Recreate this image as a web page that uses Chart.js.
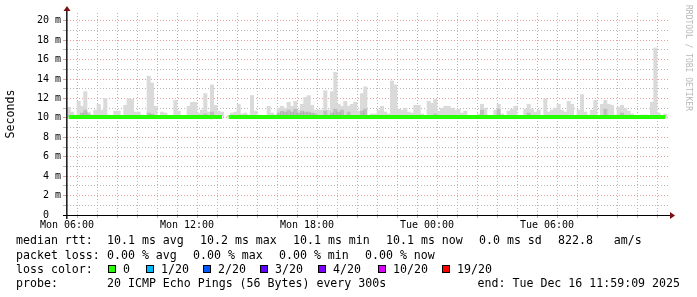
<!DOCTYPE html>
<html>
<head>
<meta charset="utf-8">
<script src="https://cdn.jsdelivr.net/npm/chart.js@4/dist/chart.umd.min.js"></script>
<style>
  html, body { margin: 0; padding: 0; background: #fff; }
  #caixa { width: 697px; height: 297px; }
</style>
</head>
<body>
<div id="caixa"><canvas id="grafico" width="697" height="297"></canvas></div>
<script>
// eixo x: horas desde Mon 06:00, um bin a cada 10 min
var xTickLabels = ['Mon 06:00', 'Mon 12:00', 'Mon 18:00', 'Tue 00:00', 'Tue 06:00'];
var yTickLabels = ['0  ', '2 m', '4 m', '6 m', '8 m', '10 m', '12 m', '14 m', '16 m', '18 m', '20 m'];

// mediana (ms) por bin
var rttMedian = [
  10.1,10.1,10.1,10.1,10.1,10.1,10.1,10.1,10.1,10.1, 10.1,10.1,10.1,10.1,10.1,10.1,10.1,10.1,10.1,10.1,
  10.1,10.1,10.1,10.1,10.1,10.1,10.1,10.1,10.1,10.1, 10.1,10.1,10.1,10.1,10.1,10.1,10.1,10.1,10.1,10.1,
  10.1,10.1,10.1,10.1,10.1,10.1,10.1,null,10.1,10.1, 10.1,10.1,10.1,10.1,10.1,10.1,10.1,10.1,10.1,10.1,
  10.1,10.1,10.1,10.1,10.1,10.1,10.1,10.1,10.1,10.1, 10.1,10.1,10.1,10.1,10.1,10.1,10.1,10.1,10.1,10.1,
  10.1,10.1,10.1,10.1,10.1,10.1,10.1,10.1,10.1,10.1, 10.1,10.1,10.1,10.1,10.1,10.1,10.1,10.1,10.1,10.1,
  10.1,10.1,10.1,10.1,10.1,10.1,10.1,10.1,10.1,10.1, 10.1,10.1,10.1,10.1,10.1,10.1,10.1,10.1,10.1,10.1,
  10.1,10.1,10.1,10.1,10.1,10.1,10.1,10.1,10.1,10.1, 10.1,10.1,10.1,10.1,10.1,10.1,10.1,10.1,10.1,10.1,
  10.1,10.1,10.1,10.1,10.1,10.1,10.1,10.1,10.1,10.1, 10.1,10.1,10.1,10.1,10.1,10.1,10.1,10.1,10.1,10.1,
  10.1,10.1,10.1,10.1,10.1,10.1,10.1,10.1,10.1,10.1, 10.1,10.1,10.1,10.1,10.1,10.1,10.1,10.1,10.1,10.1
];

// topo da fumaca (ping maximo, ms) por bin
var rttMax = [
  11.1,10.6,10.3,11.7,11.2,12.7,10.4,10.3,10.8,11.4, 10.8,12.0,10.3,10.2,10.7,10.7,10.2,11.3,12.0,11.9,
  10.6,10.6,10.3,10.2,14.3,13.6,11.2,10.2,10.6,10.5, 10.2,10.2,11.8,10.7,10.2,10.2,11.2,11.6,11.6,10.5,
  10.8,12.5,10.6,13.4,11.3,10.7,10.6,null,10.2,10.5, 10.6,11.4,10.4,10.5,10.3,12.3,10.7,10.3,10.2,10.2,
  11.2,10.5,10.3,11.0,11.2,11.0,11.6,11.2,11.7,10.8, 11.4,12.1,12.3,11.3,10.8,10.8,10.8,12.8,10.8,12.7,
  14.7,11.4,11.2,11.7,11.2,11.4,11.6,10.7,12.5,13.2, 10.2,10.4,10.4,10.8,11.2,10.6,10.4,13.8,13.4,10.9,
  10.8,11.0,10.6,10.5,11.3,11.3,10.4,10.2,11.7,11.5, 11.9,10.7,11.0,11.2,11.2,11.0,10.8,10.9,10.5,10.7,
  10.2,10.2,10.2,10.4,11.4,11.0,10.2,10.2,10.8,11.4, 10.4,10.2,10.7,10.9,11.2,10.2,10.2,10.9,11.4,10.9,
  10.6,10.8,10.2,12.0,10.6,10.8,11.0,11.4,10.8,10.6, 11.7,11.4,10.2,10.8,12.4,10.6,10.3,10.8,11.8,10.2,
  11.4,11.8,11.4,11.3,10.3,11.1,11.3,11.0,10.7,10.4, 10.2,10.2,10.3,10.3,10.2,11.6,17.2,10.5,10.1,10.4
];

// partes mais escuras da fumaca
var smokeInnerBins = [4, 5, 6, 24, 25, 41, 43, 63, 64, 65, 66, 67, 68, 69, 70, 71, 72, 73, 74, 77, 79, 80, 81, 82, 84, 88, 89, 110, 124, 129, 138, 161, 166];
var smokeInnerTop = [10.5, 10.8, 10.6, 10.5, 10.4, 10.4, 10.6, 10.5, 10.7, 10.6, 10.8, 10.6, 10.9, 10.5, 10.7, 10.6, 10.6, 10.5, 10.4, 10.7, 10.5, 10.9, 10.6, 10.8, 10.6, 10.7, 10.9, 10.4, 10.8, 10.9, 10.5, 10.9, 10.5];

var lossLabels = ['0', '1/20', '2/20', '3/20', '4/20', '10/20', '19/20'];
var lossColors = ['#26ff00', '#00b8ff', '#0059ff', '#5e00ff', '#7e00ff', '#dd00ff', '#ff0000'];
var rttStats = ['10.1 ms avg', '10.2 ms max', '10.1 ms min', '10.1 ms now', '0.0 ms sd', '822.8   am/s'];
var lossStats = ['0.00 % avg', '0.00 % max', '0.00 % min', '0.00 % now'];
var probeText = '20 ICMP Echo Pings (56 Bytes) every 300s';
var endText = 'end: Tue Dec 16 11:59:09 2025';

var binHoras = 1 / 6;
var spanHoras = 30.05;

var pontosMediana = [], pontosFumaca = [], pontosEscuros = [];
for (var i = 0; i < rttMedian.length; i++) {
  var xc = i * binHoras + binHoras / 2;
  pontosMediana.push({ x: xc, y: rttMedian[i] });
  if (rttMax[i] != null) pontosFumaca.push({ x: xc, y: [rttMedian[i], rttMax[i]] });
}
for (var j = 0; j < smokeInnerBins.length; j++) {
  var b = smokeInnerBins[j];
  pontosEscuros.push({ x: b * binHoras + binHoras / 2, y: [rttMedian[b], smokeInnerTop[j]] });
}

var mono = 'DejaVu Sans Mono';
var vermelho = 'rgba(225,140,140,0.85)';
var cinza = 'rgba(175,175,175,0.9)';

function ticksInteiros(n) {
  return function(s) {
    var t = [];
    for (var k = 0; k <= n; k++) t.push({ value: k });
    s.ticks = t;
  };
}

// eixos, setas e textos da legenda
var enfeites = {
  id: 'enfeites',
  afterDraw: function(chart) {
    var c = chart.ctx, a = chart.chartArea;
    c.save();
    c.fillStyle = '#222';
    c.fillRect(a.left - 1, a.top - 5, 1.6, a.bottom - a.top + 9);
    c.fillStyle = '#000';
    c.fillRect(a.left - 4, a.bottom, a.right - a.left + 8, 1);
    c.fillStyle = '#7a1010';
    c.beginPath();
    c.moveTo(a.right + 2, a.bottom - 3);
    c.lineTo(a.right + 7, a.bottom + 0.5);
    c.lineTo(a.right + 2, a.bottom + 4);
    c.fill();
    c.beginPath();
    c.moveTo(a.left - 3.5, a.top - 2);
    c.lineTo(a.left, a.top - 7);
    c.lineTo(a.left + 3.5, a.top - 2);
    c.fill();

    c.fillStyle = '#000';
    c.font = '11.6px ' + mono;
    c.textBaseline = 'middle';
    c.save();
    c.translate(11, 114);
    c.rotate(-Math.PI / 2);
    c.textAlign = 'center';
    c.fillText('Seconds', 0, 0);
    c.restore();

    c.save();
    c.fillStyle = '#b8b8b8';
    c.font = '8px ' + mono;
    c.translate(688, 5);
    c.rotate(Math.PI / 2);
    c.textAlign = 'left';
    c.fillText('RRDTOOL / TOBI OETIKER', 0, 0);
    c.restore();

    c.textAlign = 'left';
    var xs1 = [107, 200, 293, 386, 479, 558];
    c.fillText('median rtt:', 16, 241);
    rttStats.forEach(function(t, k) { c.fillText(t, xs1[k], 241); });
    var xs2 = [107, 193, 279, 365];
    c.fillText('packet loss:', 16, 255.5);
    lossStats.forEach(function(t, k) { c.fillText(t, xs2[k], 255.5); });
    var xs3 = [108, 146, 203, 260, 318, 378, 442];
    c.fillText('loss color:', 16, 269.5);
    lossLabels.forEach(function(t, k) {
      c.fillStyle = lossColors[k];
      c.fillRect(xs3[k], 265, 8, 8);
      c.strokeStyle = '#000';
      c.lineWidth = 1;
      c.strokeRect(xs3[k] + 0.5, 265.5, 7, 7);
      c.fillStyle = '#000';
      c.fillText(t, xs3[k] + 15, 269.5);
    });
    c.fillText('probe:', 16, 283.5);
    c.fillText(probeText, 107, 283.5);
    c.textAlign = 'right';
    c.fillText(endText, 680, 283.5);
    c.restore();
  }
};

var ctx = document.getElementById('grafico');
var grafico = new Chart(ctx, {
  type: 'bar',
  data: {
    datasets: [{
      type: 'line',
      data: pontosMediana,
      borderColor: '#26ff00',
      borderWidth: 4,
      borderCapStyle: 'butt',
      pointRadius: 0,
      spanGaps: false,
      order: 0
    }, {
      data: pontosEscuros,
      backgroundColor: 'rgba(0,0,0,0.13)',
      barPercentage: 1,
      categoryPercentage: 1,
      grouped: false,
      order: 1
    }, {
      data: pontosFumaca,
      backgroundColor: 'rgb(218,218,218)',
      barPercentage: 1,
      categoryPercentage: 1,
      grouped: false,
      order: 2
    }]
  },
  options: {
    responsive: false,
    animation: false,
    devicePixelRatio: 1,
    layout: { padding: { top: 13, right: 29, left: 0, bottom: 0 } },
    plugins: { legend: { display: false }, tooltip: { enabled: false } },
    scales: {
      x: {
        type: 'linear',
        min: 0,
        max: spanHoras,
        offset: false,
        afterBuildTicks: ticksInteiros(29),
        afterFit: function(s) { s.height = 82; },
        ticks: {
          autoSkip: false,
          maxRotation: 0,
          padding: 1,
          color: '#000',
          font: { family: mono, size: 10 },
          callback: function(v) { return v % 6 === 0 ? xTickLabels[v / 6] : ''; }
        },
        grid: {
          color: function(c) { return c.tick && c.tick.value % 3 === 0 ? vermelho : cinza; },
          tickLength: 3,
          lineWidth: 1
        },
        border: { display: false, dash: [1, 2] }
      },
      y: {
        min: 0,
        max: 20.8,
        afterBuildTicks: ticksInteiros(20),
        afterFit: function(s) { s.width = 67; },
        ticks: {
          autoSkip: false,
          padding: 2,
          color: '#000',
          font: { family: mono, size: 10 },
          callback: function(v) { return v % 2 === 0 ? yTickLabels[v / 2] : ''; }
        },
        grid: {
          color: function(c) { return c.tick && c.tick.value % 2 === 0 ? vermelho : cinza; },
          tickLength: 4,
          lineWidth: 1
        },
        border: { display: false, dash: [1, 2] }
      }
    }
  },
  plugins: [enfeites]
});
</script>
</body>
</html>
